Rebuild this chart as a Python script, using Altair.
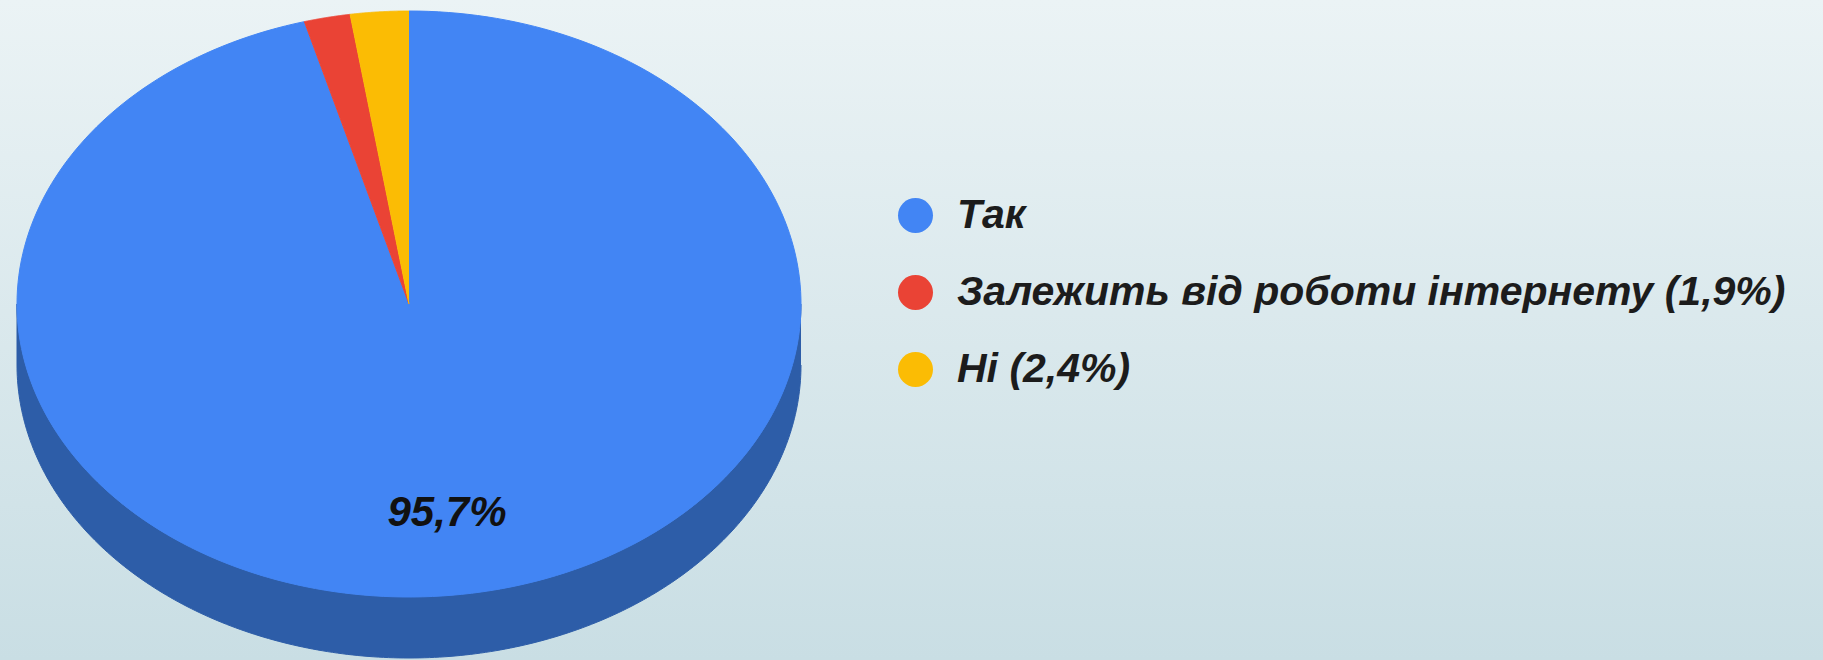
import altair as alt
import pandas as pd

# ---- data ----
categories = ["Так", "Залежить від роботи інтернету (1,9%)", "Ні (2,4%)"]
values = [95.7, 1.9, 2.4]
colors = ["#4285f4", "#ea4335", "#fbbc04"]
side_color = "#2d5da8"
bg_top = "#ebf3f5"
bg_bottom = "#c9dee4"

# ---- layout ----
W, H = 1823, 660
CX, CY, RX, RY = 409, 304, 392, 293      # centre and radii of the pie's top face (px)
DEPTH = 61 / RY                          # thickness of the 3D side, in radius units
N = 240                                  # samples along each slice's rim
LABEL_R = 0.72

xs = alt.Scale(domain=[-CX / RX, (W - CX) / RX], range=[0, W], nice=False, zero=False)
ys = alt.Scale(domain=[-(H - CY) / RY, CY / RY], range=[H, 0], nice=False, zero=False)
color_scale = alt.Scale(domain=categories, range=colors)

df = pd.DataFrame({"category": categories, "value": values, "idx": list(range(len(categories)))})
df["total"] = df["value"].sum()
df["start"] = df["value"].cumsum() - df["value"]   # share before each slice (clockwise from 12 o'clock)
steps = pd.DataFrame({"k": list(range(-1, N + 1))})
df_pts = df.merge(steps, how="cross")
side_steps = pd.DataFrame({"s": list(range(0, 2 * N + 2))})

# background gradient (vertical)
bg = alt.Chart(pd.DataFrame({"a": [0]})).mark_rect(
    color=alt.Gradient(
        gradient="linear",
        stops=[alt.GradientStop(color=bg_top, offset=0), alt.GradientStop(color=bg_bottom, offset=1)],
        x1=0, x2=0, y1=0, y2=1,
    )
).encode(x=alt.value(0), x2=alt.value(W), y=alt.value(0), y2=alt.value(H))

# 3D side: lower half of top rim, then lower half of the bottom rim back
side = alt.Chart(side_steps).transform_calculate(
    t=f"datum.s <= {N} ? PI/2 + PI*datum.s/{N} : PI/2 + PI*({2 * N + 1} - datum.s)/{N}",
    off=f"datum.s <= {N} ? 0 : {DEPTH}",
).transform_calculate(
    px="sin(datum.t)",
    py="cos(datum.t) - datum.off",
).mark_line(strokeWidth=1, color=side_color, fill=side_color).encode(
    x=alt.X("px:Q", scale=xs, axis=None),
    y=alt.Y("py:Q", scale=ys, axis=None),
    order=alt.Order("s:Q"),
)

slices = alt.Chart(df_pts).transform_calculate(
    a0="2*PI*datum.start/datum.total",
    a1="2*PI*(datum.start + datum.value)/datum.total",
).transform_calculate(
    a=f"datum.a0 + (datum.a1 - datum.a0)*max(datum.k, 0)/{N}"
).transform_calculate(
    px="datum.k < 0 ? 0 : sin(datum.a)",
    py="datum.k < 0 ? 0 : cos(datum.a)",
).mark_line(strokeWidth=1, strokeJoin="round").encode(
    x=alt.X("px:Q", scale=xs, axis=None),
    y=alt.Y("py:Q", scale=ys, axis=None),
    order=alt.Order("k:Q"),
    fill=alt.Fill(
        "category:N",
        scale=color_scale,
        legend=alt.Legend(
            title=None,
            orient="none",
            legendX=895,
            legendY=195,
            padding=0,
            symbolType="circle",
            symbolSize=1225,
            symbolStrokeWidth=0,
            labelFont="Liberation Sans",
            labelFontSize=41,
            labelFontWeight="bold",
            labelFontStyle="italic",
            labelColor="#1c1c1c",
            labelOffset=21,
            labelLimit=2000,
            rowPadding=35,
        ),
    ),
    stroke=alt.Stroke("category:N", scale=color_scale, legend=None),
)

label = alt.Chart(df).transform_filter("datum.idx == 0").transform_calculate(
    mid="2*PI*(datum.start + datum.value/2)/datum.total",
).transform_calculate(
    lx=f"{LABEL_R}*sin(datum.mid)",
    ly=f"{LABEL_R}*cos(datum.mid)",
    txt="replace(format(datum.value, '.1f'), '.', ',') + '%'",
).mark_text(
    font="Liberation Sans", fontSize=42, fontWeight="bold", fontStyle="italic",
    color="#111111", align="center", baseline="middle",
).encode(
    x=alt.X("lx:Q", scale=xs, axis=None),
    y=alt.Y("ly:Q", scale=ys, axis=None),
    text="txt:N",
)

chart = alt.layer(bg, side, slices, label).properties(
    width=W, height=H, padding=0, autosize="none"
).configure_view(strokeWidth=0)

chart.save("out.html", embed_options={"renderer": "svg", "actions": False})
